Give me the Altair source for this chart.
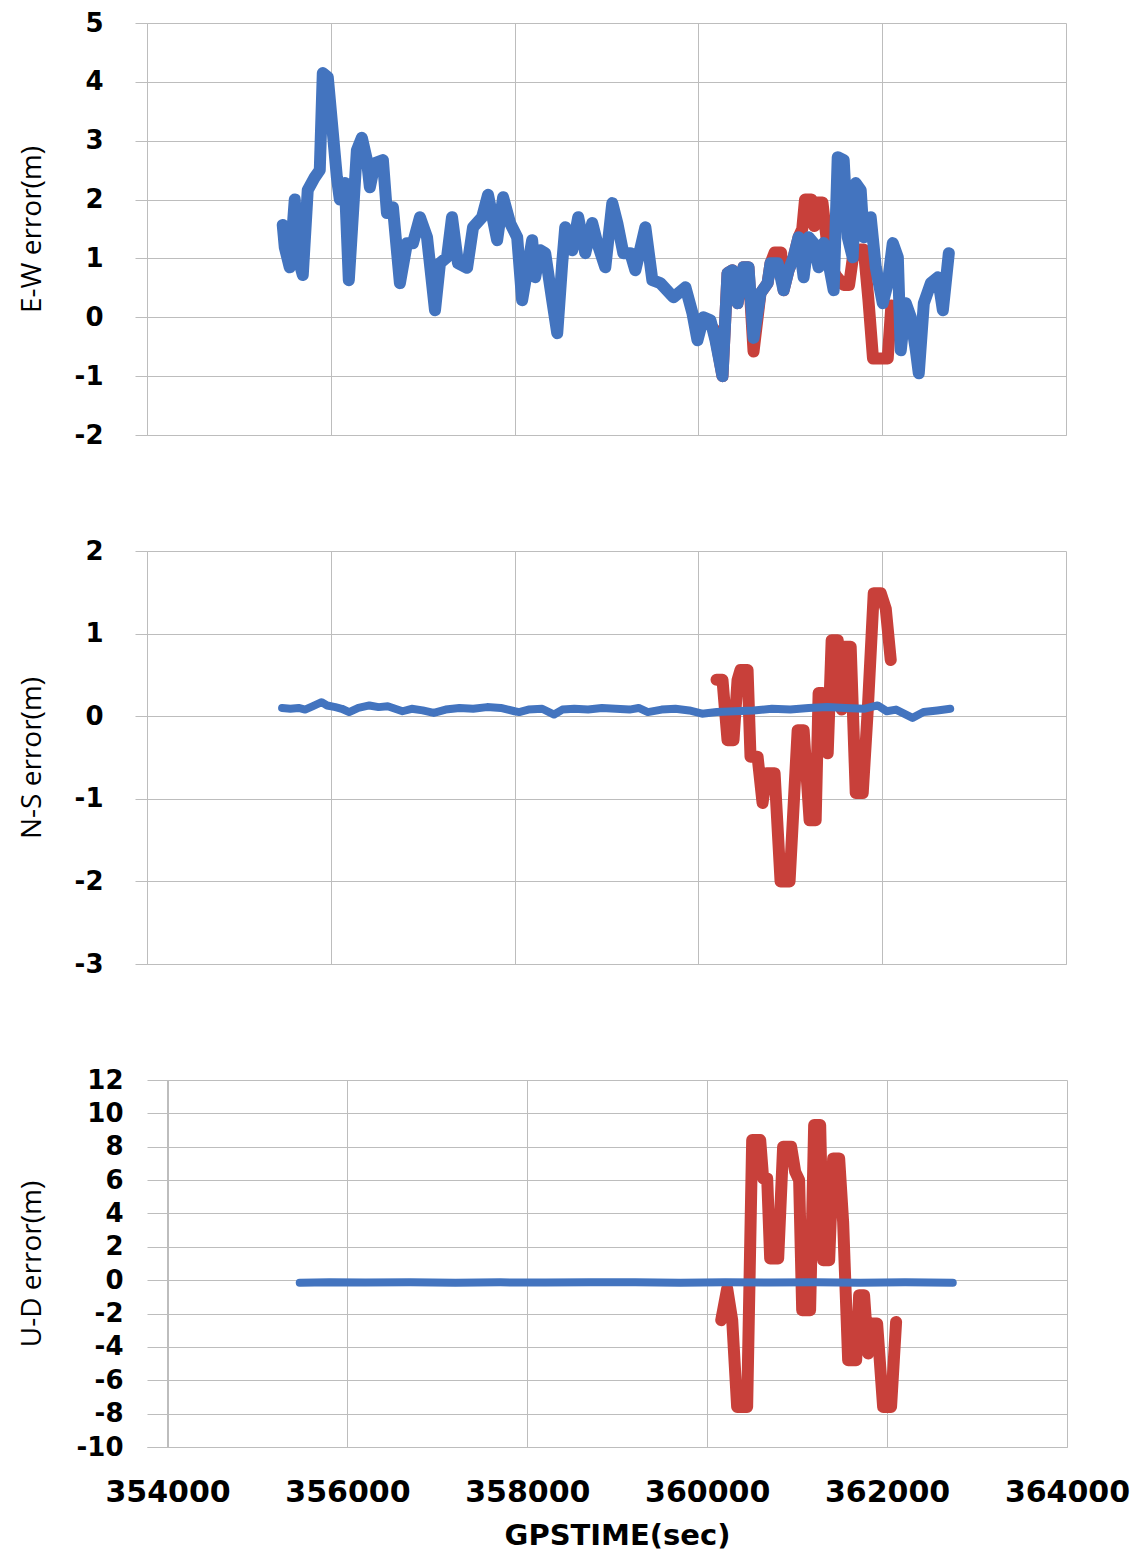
import altair as alt
import pandas as pd

# ---------------- data ----------------
x_ticks = [354000, 356000, 358000, 360000, 362000, 364000]

# E-W error (m)
ew_blue_t = [355477, 355499, 355553, 355608, 355640, 355695, 355749, 355826, 355880, 355913,
             355967, 356066, 356098, 356153, 356196, 356284, 356338, 356393, 356425, 356480,
             356567, 356611, 356676, 356752, 356829, 356894, 356970, 357047, 357134, 357188,
             357265, 357319, 357384, 357483, 357548, 357646, 357711, 357810, 357875, 357951,
             358028, 358082, 358137, 358191, 358224, 358278, 358333, 358409, 358464, 358518,
             358551, 358627, 358692, 358769, 358845, 358900, 358987, 359063, 359118, 359183,
             359259, 359314, 359423, 359499, 359586, 359728, 359859, 359935, 359990, 360055,
             360131, 360186, 360262, 360317, 360371, 360426, 360491, 360545, 360600, 360676,
             360753, 360785, 360862, 360927, 360981, 361036, 361090, 361145, 361199, 361254,
             361308, 361363, 361417, 361472, 361516, 361581, 361625, 361679, 361712, 361766,
             361799, 361875, 361930, 362006, 362061, 362115, 362170, 362202, 362257, 362311,
             362366, 362398, 362453, 362529, 362606, 362660, 362725]
ew_blue_v = [1.57, 1.19, 0.85, 2.00, 1.03, 0.72, 2.16, 2.38, 2.50, 4.15,
             4.08, 2.38, 2.00, 2.28, 0.63, 2.84, 3.05, 2.67, 2.21, 2.62,
             2.67, 1.77, 1.87, 0.58, 1.26, 1.26, 1.70, 1.36, 0.12, 0.92,
             1.02, 1.70, 0.92, 0.84, 1.53, 1.70, 2.08, 1.31, 2.04, 1.60,
             1.36, 0.29, 0.80, 1.31, 0.68, 1.14, 1.09, 0.29, -0.27, 0.92,
             1.53, 1.14, 1.70, 1.09, 1.60, 1.26, 0.85, 1.94, 1.60, 1.09,
             1.09, 0.80, 1.53, 0.63, 0.58, 0.34, 0.51, 0.07, -0.39, 0.00,
             -0.05, -0.39, -1.00, 0.75, 0.80, 0.24, 0.85, 0.85, -0.35, 0.41,
             0.58, 0.92, 0.92, 0.46, 0.80, 1.02, 1.36, 0.68, 1.36, 1.26,
             0.85, 1.26, 0.92, 0.46, 2.72, 2.67, 1.36, 1.02, 2.28, 2.16,
             1.36, 1.70, 0.85, 0.24, 0.58, 1.26, 1.02, -0.56, 0.24, 0.00,
             -0.56, -0.95, 0.24, 0.58, 0.68, 0.12, 1.09]
ew_red_t = [360170, 360262, 360317, 360371, 360426, 360491, 360545, 360600, 360676, 360753,
            360785, 360830, 360900, 360927, 360981, 361036, 361090, 361130, 361160, 361230,
            361260, 361300, 361350, 361390, 361430, 361500, 361580, 361640, 361680, 361760,
            361800, 361850, 361900, 361990, 362060, 362100]
ew_red_v = [-0.20, -1.00, 0.75, 0.80, 0.24, 0.85, 0.85, -0.58, 0.41, 0.58,
            0.92, 1.10, 1.10, 0.46, 0.80, 1.02, 1.36, 1.50, 2.00, 2.00,
            1.55, 1.95, 1.95, 1.40, 0.90, 0.70, 0.55, 0.55, 1.00, 1.15,
            1.15, 0.30, -0.70, -0.70, -0.70, 0.20]

# N-S error (m)
ns_blue_t = [355470, 355560, 355650, 355720, 355800, 355900, 355960, 356050, 356120, 356200,
             356300, 356420, 356520, 356620, 356700, 356780, 356880, 357000, 357120, 357250,
             357400, 357550, 357700, 357850, 358000, 358050, 358150, 358300, 358430, 358520,
             358650, 358800, 358950, 359100, 359250, 359350, 359450, 359600, 359750, 359900,
             360040, 360200, 360400, 360600, 360800, 361000, 361200, 361400, 361600, 361800,
             361950, 362050, 362150, 362330, 362450, 362600, 362740]
ns_blue_v = [0.10, 0.09, 0.10, 0.08, 0.12, 0.17, 0.13, 0.11, 0.09, 0.05,
             0.10, 0.13, 0.11, 0.12, 0.09, 0.06, 0.09, 0.07, 0.04, 0.08,
             0.10, 0.09, 0.11, 0.10, 0.06, 0.05, 0.08, 0.09, 0.02, 0.08,
             0.09, 0.08, 0.10, 0.09, 0.08, 0.10, 0.05, 0.08, 0.09, 0.07,
             0.03, 0.05, 0.06, 0.07, 0.09, 0.08, 0.10, 0.11, 0.10, 0.09,
             0.13, 0.06, 0.08, -0.02, 0.05, 0.07, 0.09]
ns_red_t = [360197, 360262, 360317, 360382, 360426, 360458, 360535, 360567, 360644, 360698,
            360742, 360829, 360894, 360992, 361080, 361145, 361210, 361276, 361308, 361352,
            361407, 361450, 361516, 361559, 361581, 361657, 361712, 361788, 361843, 361908,
            361984, 362039, 362093]
ns_red_v = [0.44, 0.44, -0.29, -0.29, 0.44, 0.56, 0.56, -0.49, -0.49, -1.05,
            -0.69, -0.69, -2.00, -2.00, -0.17, -0.17, -1.26, -1.26, 0.28, 0.28,
            -0.45, 0.92, 0.92, 0.08, 0.84, 0.84, -0.93, -0.93, 0.08, 1.49,
            1.49, 1.30, 0.68]

# U-D error (m)
ud_blue_t = [355470, 355800, 356200, 356700, 357200, 357700, 358200, 358700, 359200, 359700,
             360200, 360700, 361200, 361700, 362200, 362730]
ud_blue_v = [-0.15, -0.12, -0.14, -0.12, -0.15, -0.13, -0.14, -0.12, -0.13, -0.15,
             -0.12, -0.14, -0.12, -0.15, -0.13, -0.15]
ud_red_t = [360156, 360222, 360278, 360333, 360444, 360500, 360589, 360622, 360667, 360700,
            360789, 360844, 360933, 360978, 361022, 361056, 361144, 361189, 361256, 361289,
            361356, 361400, 361467, 361511, 361567, 361656, 361689, 361744, 361789, 361833,
            361889, 361956, 362044, 362100]
ud_red_v = [-2.4, -0.5, -2.4, -7.6, -7.6, 8.4, 8.4, 6.1, 6.1, 1.3,
            1.3, 8.0, 8.0, 6.5, 6.0, -1.8, -1.8, 9.3, 9.3, 1.2,
            1.2, 7.3, 7.3, 3.5, -4.8, -4.8, -0.9, -0.9, -4.4, -2.6,
            -2.6, -7.6, -7.6, -2.5]

# ---------------- style ----------------
BLUE = "#4374BF"
RED = "#C8403A"
GRID = "#BDBDBD"
LABEL_FONT = "DejaVu Sans"
TITLE_FONT = "Open Sans"
HYPHEN_LABEL = "datum.value < 0 ? '-' + abs(datum.value) : '' + datum.value"


def panel(bt, bv, rt, rv, ydom, yvals, ytitle, width, height, show_x,
          xdom, y_offset, blue_w, red_w):
    df_b = pd.DataFrame({"t": bt, "v": bv})
    df_r = pd.DataFrame({"t": rt, "v": rv})
    if show_x:
        xaxis = alt.Axis(values=x_ticks, grid=True, gridColor=GRID,
                         domainColor=GRID, ticks=False, labelFont=LABEL_FONT,
                         labelExpr=HYPHEN_LABEL,
                         labelFontWeight="bold", labelFontSize=30, labelColor="black",
                         labelPadding=30, labelFlush=False,
                         title="GPSTIME(sec)", titleFont=LABEL_FONT,
                         titleFontWeight="bold", titleFontSize=29, titleColor="black",
                         titlePadding=14, titleX=(width - y_offset) / 2)
    else:
        xaxis = alt.Axis(values=x_ticks, grid=True, gridColor=GRID, domainColor=GRID,
                         ticks=False, labels=False, title=None)
    yaxis = alt.Axis(values=yvals, grid=True, gridColor=GRID, domainColor=GRID,
                     ticks=True, tickColor=GRID, tickSize=12, offset=y_offset,
                     labelExpr=HYPHEN_LABEL,
                     labelFont=LABEL_FONT, labelFontWeight="bold", labelFontSize=26,
                     labelColor="black", labelPadding=32, labelFlush=False,
                     title=ytitle, titleFont=TITLE_FONT, titleFontWeight="normal",
                     titleFontSize=28, titleColor="black", titleX=-115 + y_offset,
                     titleBaseline="middle")
    x = alt.X("t:Q", scale=alt.Scale(domain=xdom, nice=False, zero=False), axis=xaxis)
    y = alt.Y("v:Q", scale=alt.Scale(domain=ydom, nice=False, zero=False), axis=yaxis)
    red = alt.Chart(df_r).mark_line(color=RED, strokeWidth=red_w, strokeCap="round",
                                    strokeJoin="round").encode(x=x, y=y)
    blue = alt.Chart(df_b).mark_line(color=BLUE, strokeWidth=blue_w, strokeCap="round",
                                     strokeJoin="round").encode(x=x, y=y)
    return alt.layer(red, blue).properties(width=width, height=height)


p1 = panel(ew_blue_t, ew_blue_v, ew_red_t, ew_red_v, [-2, 5], list(range(-2, 6)),
           "E-W error(m)", 919, 412, False, [354000, 364000], 0, 12, 12)
p2 = panel(ns_blue_t, ns_blue_v, ns_red_t, ns_red_v, [-3, 2], list(range(-3, 3)),
           "N-S error(m)", 919, 413, False, [354000, 364000], 0, 8, 12)
p3 = panel(ud_blue_t, ud_blue_v, ud_red_t, ud_red_v, [-10, 12], list(range(-10, 13, 2)),
           "U-D error(m)", 920, 367, True, [353772, 364000], -20, 8, 12)

chart = alt.vconcat(p1, p2, p3, spacing=90).properties(
    padding={"left": 18, "top": 10, "right": 5, "bottom": 5},
    background="white",
).configure_view(strokeWidth=0)

chart.save("out.html", embed_options={"renderer": "svg", "actions": False})
